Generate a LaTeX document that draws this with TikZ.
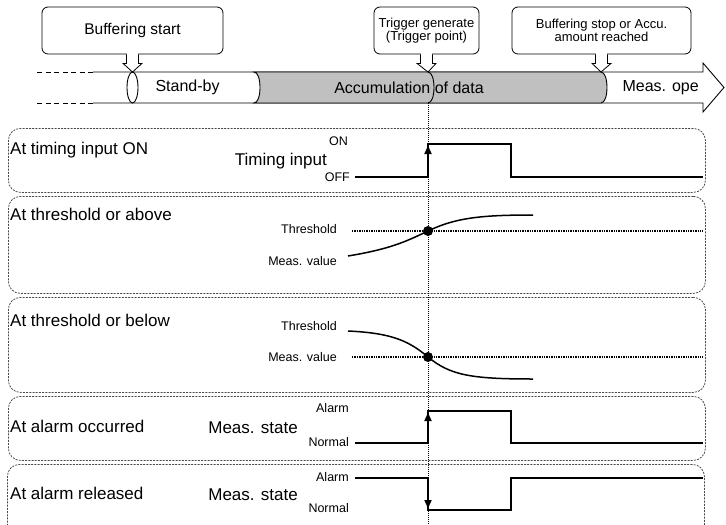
\documentclass[tikz,border=0pt]{standalone}
\usepackage{fontspec}
\setmainfont{Liberation Sans}
\usetikzlibrary{arrows.meta,calc}
\definecolor{bandgray}{HTML}{C0C0C0}
\definecolor{framegray}{HTML}{4A4A4A}
\newcommand{\fsz}[1]{\fontsize{#1}{#1}\selectfont}
% hollow pointer from a callout down to the band
\newcommand{\callptr}[2]{%
  \fill[white] ($(#1.south)+(-5.5,-3)$) rectangle ($(#1.south)+(5.5,3)$);
  \draw[line width=0.8pt, line join=miter] ($(#1.south)+(-6,0)$) -- ($(#1.south)+(-6,9)$) -- ($(#1.south)+(-9.5,9)$)
    -- (#2) -- ($(#1.south)+(9.5,9)$) -- ($(#1.south)+(6,9)$) -- ($(#1.south)+(6,0)$);
}
\tikzset{
  callout/.style={draw, rounded corners=6pt, line width=0.8pt, align=center, inner sep=0pt, minimum height=47},
  rowbox/.style={draw=framegray, dash pattern=on 2pt off 1.2pt, line width=0.8pt, rounded corners=12pt,
    anchor=north west, minimum width=697, inner sep=0pt},
  rowlabel/.style={anchor=west, font=\fsz{17}, inner sep=0pt},
  siglabel/.style={anchor=east, font=\fsz{17}, inner sep=0pt},
  levellabel/.style={anchor=east, font=\fsz{12.5}, inner sep=0pt},
  signal/.style={line width=1.7pt, line join=miter},
  edgearrow/.style={line width=1.7pt, -{Latex[length=10pt,width=8pt]}},
  refline/.style={line width=1.6pt, dash pattern=on 1.4pt off 1pt},
  hitdot/.style={circle, fill, inner sep=0pt, minimum size=10pt},
}

\begin{document}
\begin{tikzpicture}[x=1pt, y=-1pt, font=\fsz{16}]
\useasboundingbox (0,0) rectangle (726,525);
\clip (0,0) rectangle (726,525);

% operation band
\draw[line width=0.9pt, dash pattern=on 5pt off 3.5pt] (37,72) -- (93,72) (37,103) -- (93,103);
\draw[line width=0.9pt, line join=miter] (93,72) -- (703,72) -- (703,63) -- (724,87.5) -- (703,112) -- (703,103) -- (93,103);
\filldraw[fill=bandgray, line width=0.9pt] (254,72) .. controls (262,72) and (262,103) .. (254,103)
  -- (601,103) .. controls (609,103) and (609,72) .. (601,72) -- cycle;
\draw[line width=0.9pt] (428,72) .. controls (436,72) and (436,103) .. (428,103);
\filldraw[fill=white, line width=0.9pt] (132.5,87.5) ellipse [x radius=5.5, y radius=15.5];
\coordinate (startpt) at (132.5,72);
\coordinate (trigpt) at (428,72);
\coordinate (stoppt) at (601,72);

\node[anchor=west] (standby) at (152,87.5) {Stand-by};
\node (accum) at (409,87.5) {Accumulation of data};
\node[anchor=west] (measope) at (619,87.5) {Meas. ope};

% callouts
\node[callout, minimum width=181, font=\fsz{15.5}] (bstart) at (132.5,30.5) {Buffering start};
\node[callout, minimum width=105, font=\fsz{13}] (trig) at (426.5,30.5) {Trigger generate\\(Trigger point)};
\node[callout, minimum width=179, font=\fsz{13}] (bstop) at (601.5,30.5) {Buffering stop or Accu.\\amount reached};
\callptr{bstart}{startpt}
\callptr{trig}{trigpt}
\callptr{bstop}{stoppt}

% rows
\node[rowbox, minimum height=64] (rowA) at (8,128) {};
\node[rowbox, minimum height=97] (rowB) at (8,196) {};
\node[rowbox, minimum height=95] (rowC) at (8,297) {};
\node[rowbox, minimum height=64] (rowD) at (8,396) {};
\node[rowbox, minimum height=80] (rowE) at (7,464) {};

\node[rowlabel] (labA) at (10,150) {At timing input ON};
\node[rowlabel] (labB) at (10,214) {At threshold or above};
\node[rowlabel] (labC) at (10,320) {At threshold or below};
\node[rowlabel] (labD) at (10,426) {At alarm occurred};
\node[rowlabel] (labE) at (10,493) {At alarm released};

% trigger line
\draw[line width=0.7pt, dash pattern=on 1pt off 1pt] (428,103) -- (428,525);

% timing input
\node[siglabel] (tin) at (327,161) {Timing input};
\node[levellabel] (tinon) at (348,141) {ON};
\node[levellabel] (tinoff) at (350,177) {OFF};
\draw[signal] (355,177) -- (428,177) -- (428,144) -- (511,144) -- (511,177) -- (703,177);
\draw[edgearrow] (428,177) -- (428,144);

% threshold or above
\node[levellabel] (thrB) at (337,229) {Threshold};
\node[levellabel] (valB) at (337,261) {Meas. value};
\draw[refline] (352,231) -- (703,231);
\draw[line width=1.5pt] (348,256) .. controls (390,249) and (405,242) .. (428,231)
  .. controls (455,218) and (480,215) .. (533,215);
\node[hitdot] (hitB) at (428,231) {};

% threshold or below
\node[levellabel] (thrC) at (337,326) {Threshold};
\node[levellabel] (valC) at (337,357) {Meas. value};
\draw[refline] (352,357) -- (703,357);
\draw[line width=1.5pt] (348,331) .. controls (390,333) and (408,340) .. (428,357)
  .. controls (450,375) and (470,379) .. (533,379);
\node[hitdot] (hitC) at (428,357) {};

% alarm occurred
\node[siglabel] (stD) at (298,428) {Meas. state};
\node[levellabel] (alD) at (349,408) {Alarm};
\node[levellabel] (noD) at (349,442) {Normal};
\draw[signal] (355,443) -- (428,443) -- (428,411) -- (511,411) -- (511,443) -- (703,443);
\draw[edgearrow] (428,443) -- (428,411);

% alarm released
\node[siglabel] (stE) at (298,495) {Meas. state};
\node[levellabel] (alE) at (349,477) {Alarm};
\node[levellabel] (noE) at (349,508) {Normal};
\draw[signal] (355,478) -- (428,478) -- (428,510) -- (511,510) -- (511,478) -- (703,478);
\draw[edgearrow] (428,478) -- (428,510);
\end{tikzpicture}
\end{document}
